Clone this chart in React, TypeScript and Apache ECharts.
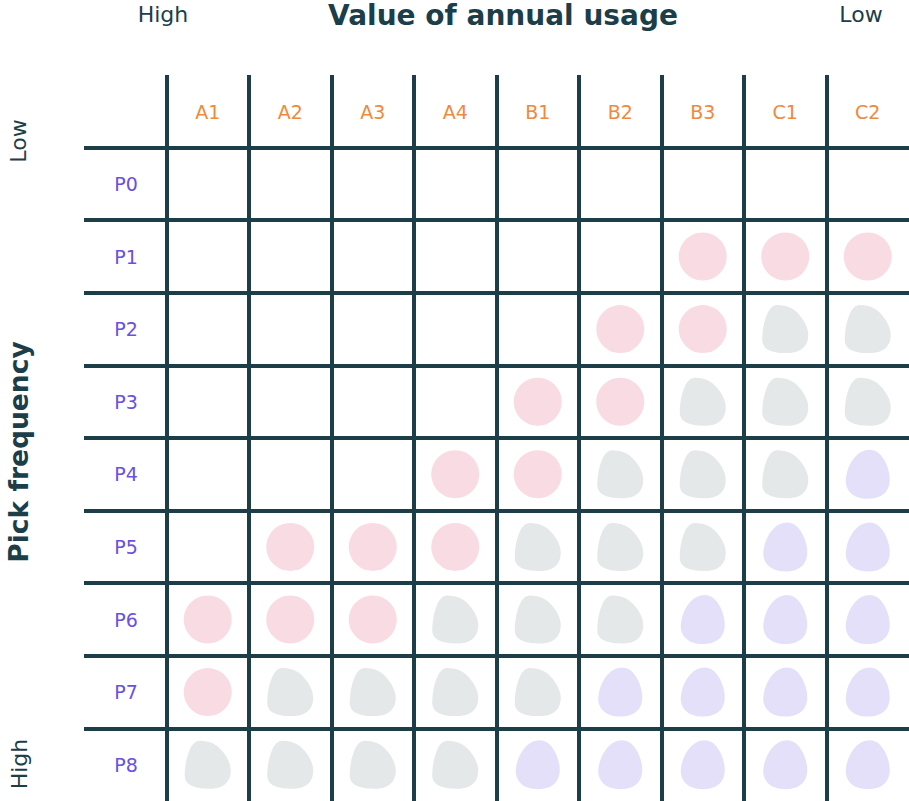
import React, { useEffect, useRef } from "react";
import * as echarts from "echarts";

const columns = ["A1", "A2", "A3", "A4", "B1", "B2", "B3", "C1", "C2"];
const rows = ["P0", "P1", "P2", "P3", "P4", "P5", "P6", "P7", "P8"];

const pinkCells: [string, string][] = [
  ["B3", "P1"], ["C1", "P1"], ["C2", "P1"],
  ["B2", "P2"], ["B3", "P2"],
  ["B1", "P3"], ["B2", "P3"],
  ["A4", "P4"], ["B1", "P4"],
  ["A2", "P5"], ["A3", "P5"], ["A4", "P5"],
  ["A1", "P6"], ["A2", "P6"], ["A3", "P6"],
  ["A1", "P7"],
];
const greyCells: [string, string][] = [
  ["C1", "P2"], ["C2", "P2"],
  ["B3", "P3"], ["C1", "P3"], ["C2", "P3"],
  ["B2", "P4"], ["B3", "P4"], ["C1", "P4"],
  ["B1", "P5"], ["B2", "P5"], ["B3", "P5"],
  ["A4", "P6"], ["B1", "P6"], ["B2", "P6"],
  ["A2", "P7"], ["A3", "P7"], ["A4", "P7"], ["B1", "P7"],
  ["A1", "P8"], ["A2", "P8"], ["A3", "P8"], ["A4", "P8"],
];
const lavenderCells: [string, string][] = [
  ["C2", "P4"],
  ["C1", "P5"], ["C2", "P5"],
  ["B3", "P6"], ["C1", "P6"], ["C2", "P6"],
  ["B2", "P7"], ["B3", "P7"], ["C1", "P7"], ["C2", "P7"],
  ["B1", "P8"], ["B2", "P8"], ["B3", "P8"], ["C1", "P8"], ["C2", "P8"],
];

const DARK = "#1b3e48";
const FONT = "'DejaVu Sans', sans-serif";

const greyBlob =
  "path://M33,0 C55,0 70,8 82,22 C94,36 100,50 100,62 C100,82 88,100 55,100 C25,100 0,95 0,72 C0,50 5,30 12,16 C18,5 25,0 33,0 Z";
const lavBlob =
  "path://M54,0 C78,0 94,25 99,50 C104,78 90,100 50,100 C15,100 -2,82 0,60 C3,30 25,0 54,0 Z";

export default function App() {
  const ref = useRef<HTMLDivElement>(null);
  useEffect(() => {
    if (!ref.current) return;
    const chart = echarts.init(ref.current, undefined, { renderer: "svg" });
    const split = {
      show: true,
      interval: 0,
      showMinLine: false,
      showMaxLine: false,
      lineStyle: { color: DARK, width: 4 },
    };
    const txt = (text: string, x: number, y: number, size: number, bold: boolean, rot = 0) => ({
      type: "text",
      x,
      y,
      rotation: rot,
      style: {
        text,
        fill: DARK,
        fontSize: size,
        fontWeight: bold ? "bold" : "normal",
        fontFamily: FONT,
        lineHeight: size,
        textAlign: "center",
        textVerticalAlign: "middle",
        align: "center",
        verticalAlign: "middle",
      },
    });
    chart.setOption({
      animation: false,
      backgroundColor: "#ffffff",
      grid: { left: 84, top: 75, right: 0, bottom: 0 },
      xAxis: {
        type: "category",
        data: ["", ...columns],
        position: "top",
        boundaryGap: true,
        axisLine: { show: false },
        axisTick: { show: false },
        axisLabel: {
          inside: true,
          interval: 0,
          margin: 37,
          verticalAlign: "middle",
          color: "#f0893c",
          fontSize: 19,
          fontFamily: FONT,
        },
        splitLine: split,
      },
      yAxis: {
        type: "category",
        data: ["", ...rows],
        inverse: true,
        boundaryGap: true,
        axisLine: { show: false },
        axisTick: { show: false },
        axisLabel: {
          inside: true,
          interval: 0,
          margin: 42,
          align: "center",
          color: "#6a50e2",
          fontSize: 19,
          fontFamily: FONT,
        },
        splitLine: split,
      },
      series: [
        {
          type: "scatter",
          data: pinkCells,
          symbol: "circle",
          symbolSize: 48,
          itemStyle: { color: "#f8d3dc" },
        },
        {
          type: "scatter",
          data: greyCells,
          symbol: greyBlob,
          symbolSize: [46, 48],
          itemStyle: { color: "#dde2e4" },
        },
        {
          type: "scatter",
          data: lavenderCells,
          symbol: lavBlob,
          symbolSize: [44, 49],
          itemStyle: { color: "#ddd8f8" },
        },
      ],
      graphic: [
        txt("Value of annual usage", 503, 15, 28, true),
        txt("High", 163, 14, 22, false),
        txt("Low", 861, 14, 22, false),
        txt("Low", 18, 141, 22, false, Math.PI / 2),
        txt("Pick frequency", 18, 452, 26.5, true, Math.PI / 2),
        txt("High", 19, 764, 22, false, Math.PI / 2),
      ],
    });
    return () => chart.dispose();
  }, []);
  return (
    <div
      ref={ref}
      style={{ position: "absolute", left: 0, top: 0, width: 909, height: 801 }}
    />
  );
}
